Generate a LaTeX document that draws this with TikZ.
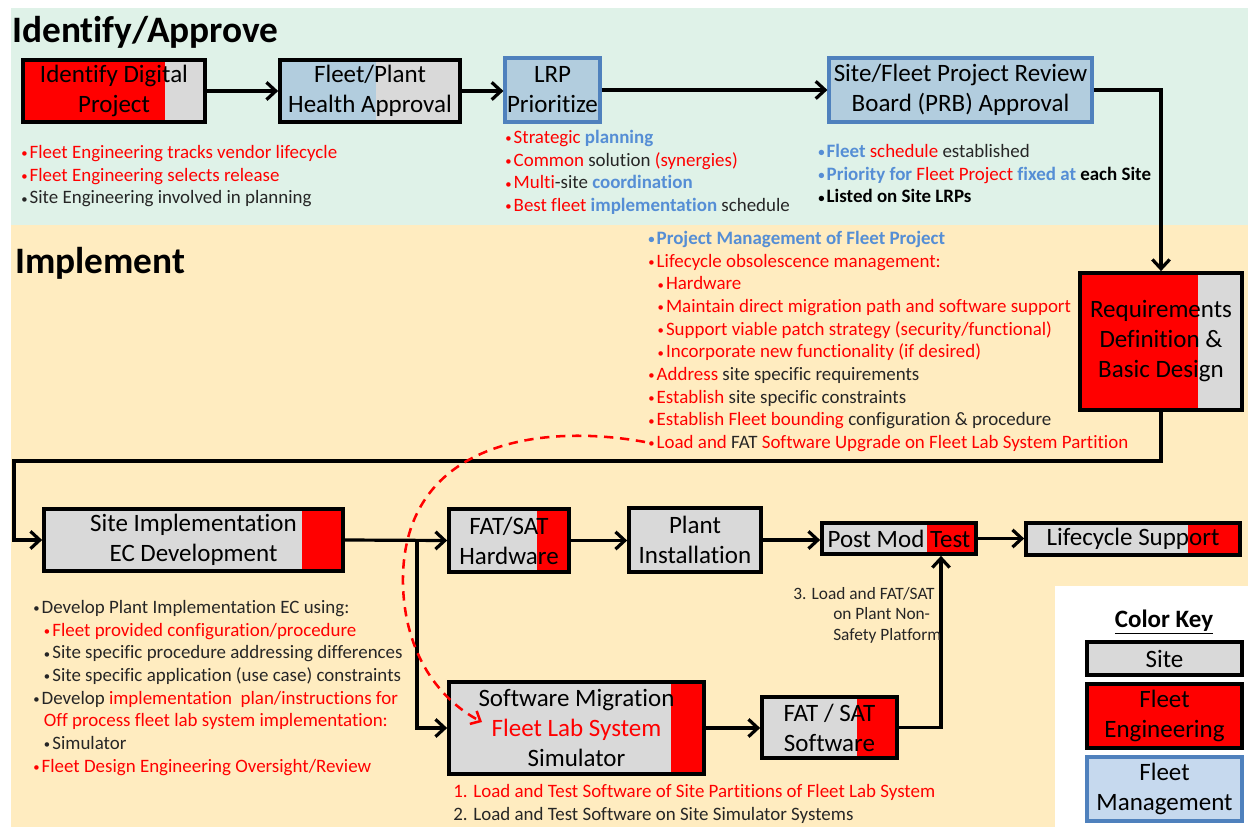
\documentclass[tikz,border=0pt]{standalone}
\usepackage{fontspec}
\setmainfont{Carlito}[Ligatures=NoCommon]
\usetikzlibrary{arrows.meta,calc}
\definecolor{fleetred}{HTML}{FF0000}
\definecolor{sitegray}{HTML}{D9D9D9}
\definecolor{fmfill}{HTML}{B2CDDE}
\definecolor{keyblue}{HTML}{C6D9EE}
\definecolor{fmborder}{HTML}{4F81BD}
\definecolor{txtblue}{HTML}{558ED5}
\definecolor{txt}{HTML}{262626}
\definecolor{greenbg}{HTML}{DFF2E8}
\definecolor{yellowbg}{HTML}{FFECC0}
\newcommand{\boxfont}{\fontsize{18.75}{22.5}\selectfont}
\newcommand{\bulfont}{\fontsize{14.2}{17}\selectfont}
\newcommand{\smfont}{\fontsize{13}{15.4}\selectfont}
\newcommand{\titfont}{\fontsize{28}{32}\selectfont\bfseries}
\newcommand{\cRed}[1]{\textcolor{fleetred}{#1}}
\newcommand{\cBlu}[1]{\textcolor{txtblue}{\bfseries #1}}
\newcommand{\cDrk}[1]{\textcolor{txt}{#1}}
\newcommand{\bu}{\raisebox{0.5pt}{\fontsize{9.5}{9.5}\selectfont •}\kern1.6pt}
\tikzset{
  sz/.style 2 args={minimum width=#1*0.75pt, minimum height=#2*0.75pt},
  box/.style={draw=black, line width=2.8pt, fill=sitegray, inner sep=0pt, align=center, font=\boxfont, text=black},
  bluebox/.style={draw=fmborder, line width=2.4pt, fill=fmfill, inner sep=0pt, align=center, font=\boxfont, text=black},
  lfill/.style 2 args={path picture={\fill[#1] (path picture bounding box.south west) rectangle ($(path picture bounding box.north west)!#2!(path picture bounding box.north east)$);}},
  rfill/.style 2 args={path picture={\fill[#1] ($(path picture bounding box.south west)!#2!(path picture bounding box.south east)$) rectangle (path picture bounding box.north east);}},
  arr/.style={draw=black, line width=2.4pt, -{Straight Barb[length=7pt,width=13pt]}},
  dashline/.style={draw=fleetred, line width=1.9pt, dash pattern=on 7pt off 5pt, -{Straight Barb[length=6pt,width=11pt]}},
  bul/.style={font=\bulfont, align=left, inner sep=0pt, anchor=north west, text=txt},
  title/.style={font=\titfont, inner sep=0pt, anchor=base west, text=black}
}
\begin{document}
\begin{tikzpicture}[x=0.75pt,y=-0.75pt]
\useasboundingbox (0,0) rectangle (1248,827);
\fill[white] (0,0) rectangle (1248,827);
\fill[greenbg] (11,8) rectangle (1248,225);
\fill[yellowbg] (11,225) rectangle (1248,827);
\fill[white] (1055,586) rectangle (1248,827);

\node[title] (t1) at (12,43) {Identify/Approve};
\node[title] (t2) at (15,273) {Implement};

% boxes
\node[box, sz={182}{62}, lfill={fleetred}{0.78}] (b1) at (114,91) {Identify Digital\\Project};
\node[box, sz={180}{62}, lfill={fmfill}{0.533}] (b2) at (370,91) {Fleet/Plant\\Health Approval};
\node[bluebox, sz={95}{64}] (b3) at (552.5,90) {LRP\\Prioritize};
\node[bluebox, sz={263}{64}] (b4) at (960.5,90) {Site/Fleet Project Review\\Board (PRB) Approval};
\node[box, sz={162}{137}, lfill={fleetred}{0.73}] (b5) at (1161,341.5) {Requirements\\Definition \&\\Basic Design};
\node[box, sz={299}{62}, rfill={fleetred}{0.863}] (b6) at (193.5,540) {Site Implementation\\EC Development};
\node[box, sz={120}{63}, rfill={fleetred}{0.733}] (b7) at (509,540.5) {FAT/SAT\\Hardware};
\node[box, sz={132}{64}] (b8) at (695,540) {Plant\\Installation};
\node[box, sz={154}{31}, rfill={fleetred}{0.68}] (b9) at (899,538.5) {Post Mod Test};
\node[box, sz={214}{32}, rfill={fleetred}{0.757}] (b10) at (1133,539) {Lifecycle Support};
\node[box, sz={255}{92}, rfill={fleetred}{0.87}] (b11) at (576.5,728) {Software Migration\\\textcolor{fleetred}{Fleet Lab System}\\Simulator};
\node[box, sz={135}{61}, rfill={fleetred}{0.70}] (b12) at (829.5,727.5) {FAT / SAT\\Software};

% colour key
\node[font=\boxfont\bfseries, text=black, inner sep=0pt] (kt) at (1164,622) {\underline{Color Key}};
\node[box, sz={155}{33}] (k1) at (1164.5,658.5) {Site};
\node[box, sz={155}{64}, fill=fleetred] (k2) at (1164.5,716) {Fleet\\Engineering};
\node[bluebox, sz={155}{64}, fill=keyblue] (k3) at (1164.5,789) {Fleet\\Management};

% connectors
\coordinate (c1) at (14,461);
\coordinate (j1) at (417,540);
\coordinate (c2) at (941,727.5);
\draw[arr] (b1.east) -- (b2.west);
\draw[arr] (b2.east) -- (b2.east -| b3.west);
\draw[arr] (b3.east) -- (b4.west);
\draw[arr] (b4.east) -| (b5.north);
\draw[arr] (b5.south) |- (c1) |- (b6.west);
\draw[arr] (b6.east) -- (b7.west);
\draw[arr] (j1) |- (b11.west);
\draw[arr] (b7.east) -- (b7.east -| b8.west);
\draw[arr] (b8.east) -- (b8.east -| b9.west);
\draw[arr] (b9.east) -- (b9.east -| b10.west);
\draw[arr] (b11.east) -- (b11.east -| b12.west);
\draw[arr] (b12.east) -- (c2) -- (c2 |- b9.south);

% dashed red curve
\coordinate (d0) at (645,442);
\coordinate (d1) at (403,585);
\coordinate (d2) at (482,722);
\draw[dashline] (d0) .. controls (535,422) and (400,445) .. (d1) .. controls (405,655) and (440,700) .. (d2);

% bullet texts
\node[bul] (n1) at (21,145) {\cRed{\bu Fleet Engineering tracks vendor lifecycle}\\
\cRed{\bu Fleet Engineering selects release}\\
\cDrk{\bu Site Engineering involved in planning}};

\node[bul] (n2) at (505,130) {\cRed{\bu Strategic} \cBlu{planning}\\
\cRed{\bu Common} \cDrk{solution} \cRed{(synergies)}\\
\cRed{\bu Multi}\cDrk{-site} \cBlu{coordination}\\
\cRed{\bu Best fleet} \cBlu{implementation} \cDrk{schedule}};

\node[bul] (n3) at (818,144) {\cBlu{\bu Fleet} \cRed{schedule} \cDrk{established}\\
\cBlu{\bu Priority for} \cRed{Fleet Project} \cBlu{fixed at} \textcolor{black}{\bfseries each Site}\\
\textcolor{black}{\bfseries \bu Listed on Site LRPs}};

\node[bul] (n4) at (648,231) {\cBlu{\bu Project Management of Fleet Project}\\
\cRed{\bu Lifecycle obsolescence management:}\\
\hspace*{7pt}\cRed{\bu Hardware}\\
\hspace*{7pt}\cRed{\bu Maintain direct migration path and software support}\\
\hspace*{7pt}\cRed{\bu Support viable patch strategy (security/functional)}\\
\hspace*{7pt}\cRed{\bu Incorporate new functionality (if desired)}\\
\cRed{\bu Address} \cDrk{site specific requirements}\\
\cRed{\bu Establish} \cDrk{site specific constraints}\\
\cRed{\bu Establish Fleet bounding} \cDrk{configuration \& procedure}\\
\cRed{\bu Load and} \cDrk{FAT} \cRed{Software Upgrade on Fleet Lab System Partition}};

\node[bul] (n5) at (33,600) {\cDrk{\bu Develop Plant Implementation EC using:}\\
\hspace*{8pt}\cRed{\bu Fleet provided configuration/procedure}\\
\hspace*{8pt}\cDrk{\bu Site specific procedure addressing differences}\\
\hspace*{8pt}\cDrk{\bu Site specific application (use case) constraints}\\
\cDrk{\bu Develop} \cRed{implementation\ \ plan/instructions for}\\
\hspace*{8pt}\cRed{Off process fleet lab system implementation:}\\
\hspace*{8pt}\cDrk{\bu Simulator}\\
\cRed{\bu Fleet Design Engineering Oversight/Review}};

\node[bul] (n6) at (453,784) {\cRed{1. Load and Test Software of Site Partitions of Fleet Lab System}\\
\cDrk{2. Load and Test Software on Site Simulator Systems}};

\node[bul, font=\smfont] (n7) at (793,587) {3. Load and FAT/SAT\\
\hspace*{30pt}on Plant Non-\\
\hspace*{30pt}Safety Platform};
\end{tikzpicture}
\end{document}
